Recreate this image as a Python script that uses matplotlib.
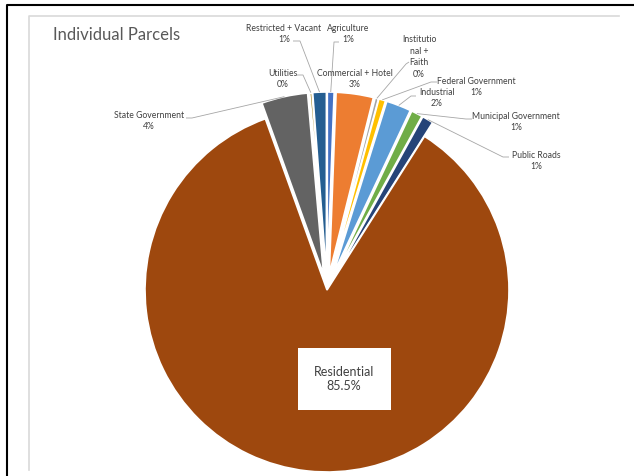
import numpy as np
import matplotlib.pyplot as plt
from matplotlib.patches import Rectangle

plt.rcParams['font.family'] = ['Lato', 'DejaVu Sans']

W, H = 634, 476

# slices, clockwise from 12 o'clock
categories = ['Agriculture', 'Commercial + Hotel', 'Institutional + Faith',
              'Federal Government', 'Industrial', 'Municipal Government',
              'Public Roads', 'Residential', 'State Government', 'Utilities',
              'Restricted + Vacant']
shares = [0.6, 3.3, 0.3, 0.6, 2.2, 1.0, 1.0, 85.5, 4.1, 0.2, 1.2]
label_names = ['Agriculture', 'Commercial + Hotel', 'Institutio\nnal +\nFaith',
               'Federal Government', 'Industrial', 'Municipal Government',
               'Public Roads', 'Residential', 'State Government', 'Utilities',
               'Restricted + Vacant']
colors = ['#4472C4', '#ED7D31', '#A5A5A5', '#FFC000', '#5B9BD5', '#70AD47',
          '#264478', '#9E480E', '#636363', '#997300', '#255E91']

# label placement in pixels from top-left: text centre, then leader points
label_pos = {
    'Agriculture': (348, 34),
    'Commercial + Hotel': (355, 79),
    'Institutional + Faith': (419, 57),
    'Federal Government': (476, 87),
    'Industrial': (437, 98),
    'Municipal Government': (516, 122),
    'Public Roads': (536, 161),
    'State Government': (149, 121),
    'Utilities': (283, 79),
    'Restricted + Vacant': (284, 34),
}
leaders = {
    'Agriculture': [(339, 42), (334, 42)],
    'Institutional + Faith': [(409, 62), (406, 64)],
    'Federal Government': [(437, 82), (431, 82)],
    'Industrial': [(416, 96), (411, 96)],
    'Municipal Government': [(472, 119), (466, 119)],
    'Public Roads': [(509, 157), (503, 157)],
    'State Government': [(186, 118), (192, 118)],
    'Utilities': [(297, 75), (303, 75)],
    'Restricted + Vacant': [(293, 41), (300, 41)],
}

fig = plt.figure(figsize=(W / 100, H / 100), dpi=100)
ax = fig.add_axes([0, 0, 1, 1])

cx, cy, r = 327, H - 290, 182
explode = [0 if c == 'Residential' else 16 for c in categories]
wedges, _ = ax.pie(shares, colors=colors, startangle=90, counterclock=False,
                   explode=explode, radius=r, center=(cx, cy),
                   wedgeprops=dict(edgecolor='white', linewidth=1.2))
ax.set_xlim(0, W)
ax.set_ylim(0, H)
ax.set_aspect('equal')
ax.axis('off')

txt = '#404040'
step = 11.5
for w, cat, name, v in zip(wedges, categories, label_names, shares):
    if cat == 'Residential':
        continue
    x, y = label_pos[cat]
    lines = name.split('\n') + [f"{round(v)}%"]
    top = y - step * (len(lines) - 1) / 2
    for i, line in enumerate(lines):
        ax.text(x, H - (top + i * step), line, ha='center', va='center',
                fontsize=6.2, color=txt)
    if cat in leaders:
        ang = np.deg2rad((w.theta1 + w.theta2) / 2)
        ex = w.center[0] + w.r * np.cos(ang)
        ey = w.center[1] + w.r * np.sin(ang)
        pts = [(px, H - py) for px, py in leaders[cat]] + [(ex, ey)]
        ax.plot([p[0] for p in pts], [p[1] for p in pts], color='#A6A6A6',
                lw=0.6, solid_capstyle='butt')

# residential label box
ax.add_patch(Rectangle((298, H - 410), 93, 62, fc='white', ec='none'))
res = shares[categories.index('Residential')]
ax.text(344, H - 379, f"Residential\n{res:.1f}%", ha='center', va='center',
        fontsize=9, color='#404040', linespacing=1.3)

ax.text(53, H - 35, 'Individual Parcels', ha='left', va='center',
        fontsize=12, color='#595959')

# chart frame and screenshot border
ax.plot([29, 29, 619], [H - 470, H - 16, H - 16], color='#D9D9D9', lw=1.2)
ax.plot([7, 7, W], [0, H - 5, H - 5], color='black', lw=1.5)

fig.savefig('out.png', dpi=100)
